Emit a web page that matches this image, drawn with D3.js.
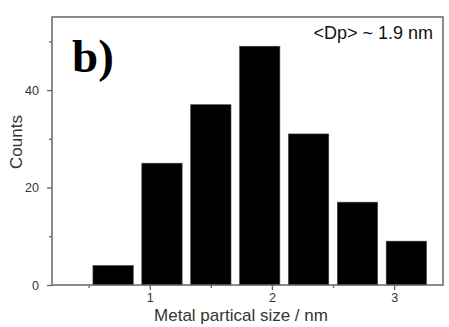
<!DOCTYPE html>
<html>
<head>
<meta charset="utf-8">
<script src="https://cdn.jsdelivr.net/npm/d3@7"></script>
<style>
  body { margin: 0; background: #fff; }
  svg { display: block; }
</style>
</head>
<body>
<div id="chart"></div>
<script>
// bin centres (nm) and counts
const binCenters = [0.7, 1.1, 1.5, 1.9, 2.3, 2.7, 3.1];
const counts = [4, 25, 37, 49, 31, 17, 9];
const binWidth = 0.33;

const xMajor = [1, 2, 3];
const xMinor = [0.5, 1.5, 2.5];
const yMajor = [0, 20, 40];
const yMinor = [10, 30, 50];

const width = 449, height = 327;
const plotLeft = 52, plotRight = 443, plotTop = 17, plotBottom = 285;

const svg = d3.select('#chart').append('svg')
  .attr('width', width)
  .attr('height', height);

const x = d3.scaleLinear().domain([0.2, 3.4]).range([plotLeft, plotRight]);
const y = d3.scaleLinear().domain([0, 55]).range([plotBottom, plotTop]);

const axisColor = '#666';
const labelColor = '#333';

// bars
svg.selectAll('.bar')
  .data(binCenters)
  .enter().append('rect')
  .attr('class', 'bar')
  .attr('x', (d) => x(d - binWidth / 2))
  .attr('width', (d) => x(d + binWidth / 2) - x(d - binWidth / 2))
  .attr('y', (d, i) => y(counts[i]))
  .attr('height', (d, i) => y(0) - y(counts[i]))
  .style('fill', '#000')
  .style('stroke', '#444')
  .style('stroke-width', 0.6);

// frame
svg.append('rect')
  .attr('x', plotLeft)
  .attr('y', plotTop)
  .attr('width', plotRight - plotLeft)
  .attr('height', plotBottom - plotTop)
  .style('fill', 'none')
  .style('stroke', axisColor)
  .style('stroke-width', 1.5);

// x axis ticks
const xAxis = d3.axisBottom(x).tickValues(xMajor).tickSize(5).tickPadding(3).tickFormat(d3.format('d'));
const gx = svg.append('g').attr('transform', `translate(0,${plotBottom})`).call(xAxis);
gx.select('.domain').remove();
gx.selectAll('line').style('stroke', axisColor).style('stroke-width', 1.3);
gx.selectAll('text').style('font-family', 'Arial, "Liberation Sans", sans-serif')
  .style('font-size', '12.5px').style('fill', labelColor);

const xAxisMinor = d3.axisBottom(x).tickValues(xMinor).tickSize(3).tickFormat('');
const gxm = svg.append('g').attr('transform', `translate(0,${plotBottom})`).call(xAxisMinor);
gxm.select('.domain').remove();
gxm.selectAll('line').style('stroke', axisColor).style('stroke-width', 1.3);

// y axis ticks
const yAxis = d3.axisLeft(y).tickValues(yMajor).tickSize(5).tickPadding(8);
const gy = svg.append('g').attr('transform', `translate(${plotLeft},0)`).call(yAxis);
gy.select('.domain').remove();
gy.selectAll('line').style('stroke', axisColor).style('stroke-width', 1.3);
gy.selectAll('text').style('font-family', 'Arial, "Liberation Sans", sans-serif')
  .style('font-size', '12.5px').style('fill', labelColor);

const yAxisMinor = d3.axisLeft(y).tickValues(yMinor).tickSize(3).tickFormat('');
const gym = svg.append('g').attr('transform', `translate(${plotLeft},0)`).call(yAxisMinor);
gym.select('.domain').remove();
gym.selectAll('line').style('stroke', axisColor).style('stroke-width', 1.3);

// axis titles
svg.append('text')
  .attr('x', 241)
  .attr('y', 321)
  .attr('text-anchor', 'middle')
  .style('font-family', 'Arial, "Liberation Sans", sans-serif')
  .style('font-size', '17px')
  .style('fill', labelColor)
  .text('Metal partical size / nm');

svg.append('text')
  .attr('transform', 'translate(22,142) rotate(-90)')
  .attr('text-anchor', 'middle')
  .style('font-family', 'Arial, "Liberation Sans", sans-serif')
  .style('font-size', '17px')
  .style('fill', labelColor)
  .text('Counts');

// panel label and annotation
svg.append('text')
  .attr('x', 72)
  .attr('y', 72)
  .style('font-family', '"Liberation Serif", "Times New Roman", serif')
  .style('font-weight', 'bold')
  .style('font-size', '47px')
  .style('fill', '#000')
  .text('b)');

svg.append('text')
  .attr('x', 433)
  .attr('y', 39)
  .attr('text-anchor', 'end')
  .style('font-family', 'Arial, "Liberation Sans", sans-serif')
  .style('font-size', '18px')
  .style('fill', '#111')
  .text('<Dp> ~ 1.9 nm');
</script>
</body>
</html>
